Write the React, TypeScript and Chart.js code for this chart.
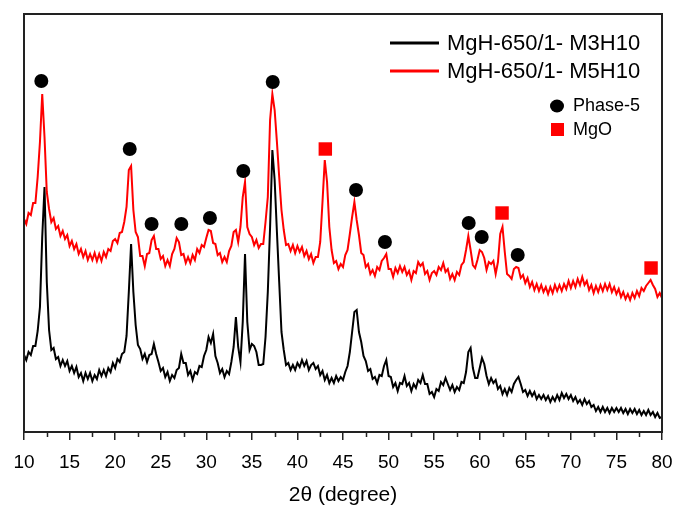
import { useEffect, useRef } from "react";
import { Chart, registerables } from "chart.js";

Chart.register(...registerables);

// XRD scan: start angle and step (degrees 2θ)
const ANGLE_START = 10;
const ANGLE_STEP = 0.25;

// Intensity (a.u.), one value per 0.25° from 10° to 80°
const M3H10 = [
  77, 72, 80, 77, 86, 86, 101, 125, 195, 245, 150, 102, 82, 84, 73, 75, 66, 72, 66, 71,
  61, 66, 59, 65, 55, 59, 51, 59, 53, 59, 51, 57, 53, 62, 56, 62, 56, 64, 60, 69,
  64, 73, 70, 78, 80, 96, 140, 188, 140, 107, 87, 83, 73, 78, 70, 77, 78, 88, 78, 70,
  61, 64, 55, 60, 51, 57, 54, 62, 64, 78, 69, 69, 57, 61, 52, 60, 58, 66, 65, 76,
  82, 95, 89, 98, 76, 69, 59, 63, 55, 61, 58, 70, 85, 115, 85, 70, 110, 178, 110, 82,
  88, 86, 80, 67, 67, 68, 95, 140, 205, 282, 252, 200, 150, 100, 82, 67, 69, 62, 67, 62,
  69, 65, 72, 66, 71, 62, 67, 69, 63, 66, 57, 61, 52, 57, 49, 54, 49, 56, 51, 55,
  52, 60, 66, 80, 100, 120, 122, 100, 90, 76, 71, 61, 63, 53, 55, 49, 57, 56, 66, 72,
  56, 55, 45, 49, 41, 49, 48, 56, 46, 49, 41, 48, 44, 52, 49, 57, 48, 48, 38, 40,
  35, 43, 41, 50, 47, 54, 48, 42, 47, 40, 45, 42, 50, 49, 60, 80, 84, 64, 54, 54,
  64, 74, 68, 56, 48, 54, 49, 52, 43, 46, 38, 43, 37, 44, 40, 48, 52, 55, 48, 40,
  42, 36, 41, 36, 40, 33, 37, 33, 37, 32, 36, 30, 35, 31, 37, 32, 39, 34, 38, 33,
  37, 31, 35, 29, 32, 27, 33, 28, 31, 25, 27, 21, 25, 20, 25, 20, 24, 19, 24, 20,
  24, 20, 24, 19, 23, 18, 23, 19, 23, 18, 22, 17, 21, 17, 22, 17, 20, 15, 19, 14,
  15,
];

const M5H10 = [
  213, 208, 219, 217, 229, 229, 255, 290, 338, 295, 240, 223, 210, 214, 203, 206, 196, 201, 193, 197,
  186, 191, 183, 188, 178, 183, 175, 181, 172, 178, 172, 179, 171, 178, 171, 180, 175, 183, 181, 191,
  193, 189, 199, 200, 210, 225, 262, 266, 222, 200, 195, 176, 176, 166, 178, 179, 192, 196, 183, 183,
  173, 176, 166, 172, 166, 178, 183, 194, 190, 177, 178, 169, 175, 169, 177, 172, 183, 179, 187, 185,
  194, 202, 201, 189, 188, 177, 179, 170, 175, 170, 181, 186, 200, 202, 190, 205, 235, 250, 205, 198,
  195, 187, 192, 184, 188, 188, 210, 235, 312, 338, 322, 290, 255, 222, 202, 187, 188, 181, 187, 179,
  186, 180, 185, 176, 181, 173, 178, 169, 175, 175, 190, 230, 272, 250, 205, 182, 169, 171, 163, 168,
  165, 177, 182, 198, 215, 230, 212, 197, 179, 177, 165, 168, 158, 162, 156, 165, 162, 171, 174, 178,
  163, 163, 155, 164, 159, 166, 160, 165, 157, 161, 152, 161, 159, 170, 166, 169, 158, 161, 152, 159,
  161, 157, 165, 162, 169, 160, 163, 153, 158, 152, 160, 157, 167, 170, 182, 196, 182, 167, 164, 172,
  182, 180, 174, 162, 170, 168, 171, 158, 170, 198, 205, 180, 158, 156, 153, 163, 165, 164, 154, 157,
  149, 154, 145, 150, 142, 148, 141, 147, 140, 145, 138, 145, 139, 147, 141, 147, 141, 148, 143, 151,
  144, 151, 145, 153, 147, 155, 147, 151, 142, 147, 139, 146, 140, 147, 141, 148, 142, 148, 140, 145,
  138, 143, 135, 140, 133, 138, 132, 139, 134, 141, 136, 144, 141, 146, 149, 152, 147, 143, 135, 139,
  134,
];

// Peak markers
const PHASE5_ANGLES = [11.9, 21.6, 24.0, 27.26, 30.4, 34.06, 37.29, 46.43, 49.6, 58.79, 60.22, 64.17];
const PHASE5_LEVELS = [351, 283, 208, 208, 214, 261, 350, 242, 190, 209, 195, 177];
const MGO_ANGLES = [43.06, 62.45, 78.8];
const MGO_LEVELS = [283, 219, 164];

const X_TICKS = [10, 15, 20, 25, 30, 35, 40, 45, 50, 55, 60, 65, 70, 75, 80];
const Y_MAX = 418;

const SERIES_LABELS = ["MgH-650/1- M3H10", "MgH-650/1- M5H10"];
const MARKER_LABELS = ["Phase-5", "MgO"];
const X_TITLE = "2\u03b8 (degree)";

const FONT = "'Liberation Sans', Arial, Helvetica, sans-serif";

const toPoints = (vals: number[]) =>
  vals.map((v, i) => ({ x: ANGLE_START + i * ANGLE_STEP, y: v }));
const zipPoints = (xs: number[], ys: number[]) => xs.map((x, i) => ({ x, y: ys[i] }));

const decorPlugin = {
  id: "decor",
  afterDraw(chart: any) {
    const { ctx, chartArea: a, scales } = chart;
    const xs = scales.x;
    ctx.save();
    // frame
    ctx.strokeStyle = "#222";
    ctx.lineWidth = 2;
    ctx.strokeRect(a.left, a.top, a.right - a.left, a.bottom - a.top);
    // minor ticks
    ctx.lineWidth = 1.5;
    for (let i = 0; i < X_TICKS.length - 1; i++) {
      const v = (X_TICKS[i] + X_TICKS[i + 1]) / 2;
      const px = Math.round(xs.getPixelForValue(v)) + 0.5;
      ctx.beginPath();
      ctx.moveTo(px, a.bottom);
      ctx.lineTo(px, a.bottom + 5);
      ctx.stroke();
    }
    // legend
    ctx.textBaseline = "middle";
    ctx.textAlign = "left";
    ctx.font = `22px ${FONT}`;
    const lineRows = [
      { y: 43, color: "#000000" },
      { y: 71, color: "#ff0000" },
    ];
    lineRows.forEach((r, i) => {
      ctx.strokeStyle = r.color;
      ctx.lineWidth = 3;
      ctx.beginPath();
      ctx.moveTo(390, r.y);
      ctx.lineTo(439, r.y);
      ctx.stroke();
      ctx.fillStyle = "#000";
      ctx.fillText(SERIES_LABELS[i], 447, r.y + 1);
    });
    ctx.font = `18px ${FONT}`;
    ctx.fillStyle = "#000";
    ctx.beginPath();
    ctx.ellipse(557, 106, 7, 6.5, 0, 0, Math.PI * 2);
    ctx.fill();
    ctx.fillText(MARKER_LABELS[0], 573, 106);
    ctx.fillStyle = "#ff0000";
    ctx.fillRect(551, 123, 13, 13);
    ctx.fillStyle = "#000";
    ctx.fillText(MARKER_LABELS[1], 573, 130);
    ctx.restore();
  },
};

export default function App() {
  const ref = useRef<HTMLCanvasElement | null>(null);
  useEffect(() => {
    document.body.style.margin = "0";
    const canvas = ref.current;
    if (!canvas) return;
    const chart = new Chart(canvas, {
      type: "scatter",
      data: {
        datasets: [
          {
            label: MARKER_LABELS[0],
            data: zipPoints(PHASE5_ANGLES, PHASE5_LEVELS),
            pointStyle: "circle",
            pointRadius: 7,
            backgroundColor: "#000000",
            borderColor: "#000000",
            borderWidth: 0,
            showLine: false,
          },
          {
            label: MARKER_LABELS[1],
            data: zipPoints(MGO_ANGLES, MGO_LEVELS),
            pointStyle: "rect",
            pointRadius: 9.5,
            backgroundColor: "#ff0000",
            borderColor: "#ff0000",
            borderWidth: 0,
            showLine: false,
          },
          {
            label: SERIES_LABELS[1],
            data: toPoints(M5H10),
            showLine: true,
            borderColor: "#ff0000",
            borderWidth: 2,
            pointRadius: 0,
            tension: 0,
          },
          {
            label: SERIES_LABELS[0],
            data: toPoints(M3H10),
            showLine: true,
            borderColor: "#000000",
            borderWidth: 2,
            pointRadius: 0,
            tension: 0,
          },
        ],
      },
      options: {
        responsive: false,
        animation: false,
        layout: { padding: { left: 24, right: 27, top: 14, bottom: 0 } },
        plugins: {
          legend: { display: false },
          tooltip: { enabled: false },
        },
        scales: {
          x: {
            type: "linear",
            min: 10,
            max: 80,
            afterBuildTicks: (scale: any) => {
              scale.ticks = X_TICKS.map((v) => ({ value: v }));
            },
            afterFit: (scale: any) => {
              scale.height = 76;
            },
            ticks: {
              color: "#000",
              font: { family: FONT, size: 19 },
              padding: 11,
              maxRotation: 0,
              autoSkip: false,
            },
            grid: {
              display: true,
              drawOnChartArea: false,
              drawTicks: true,
              tickLength: 8,
              color: "#222",
              lineWidth: 1.5,
            },
            border: { display: false },
            title: {
              display: true,
              text: X_TITLE,
              color: "#000",
              font: { family: FONT, size: 21 },
              padding: { top: 0, bottom: 0 },
            },
          },
          y: {
            type: "linear",
            min: 0,
            max: Y_MAX,
            display: false,
          },
        },
      },
      plugins: [decorPlugin],
    });
    return () => chart.destroy();
  }, []);
  return (
    <div style={{ width: 689, height: 508 }}>
      <canvas ref={ref} width={689} height={508} style={{ display: "block" }} />
    </div>
  );
}
